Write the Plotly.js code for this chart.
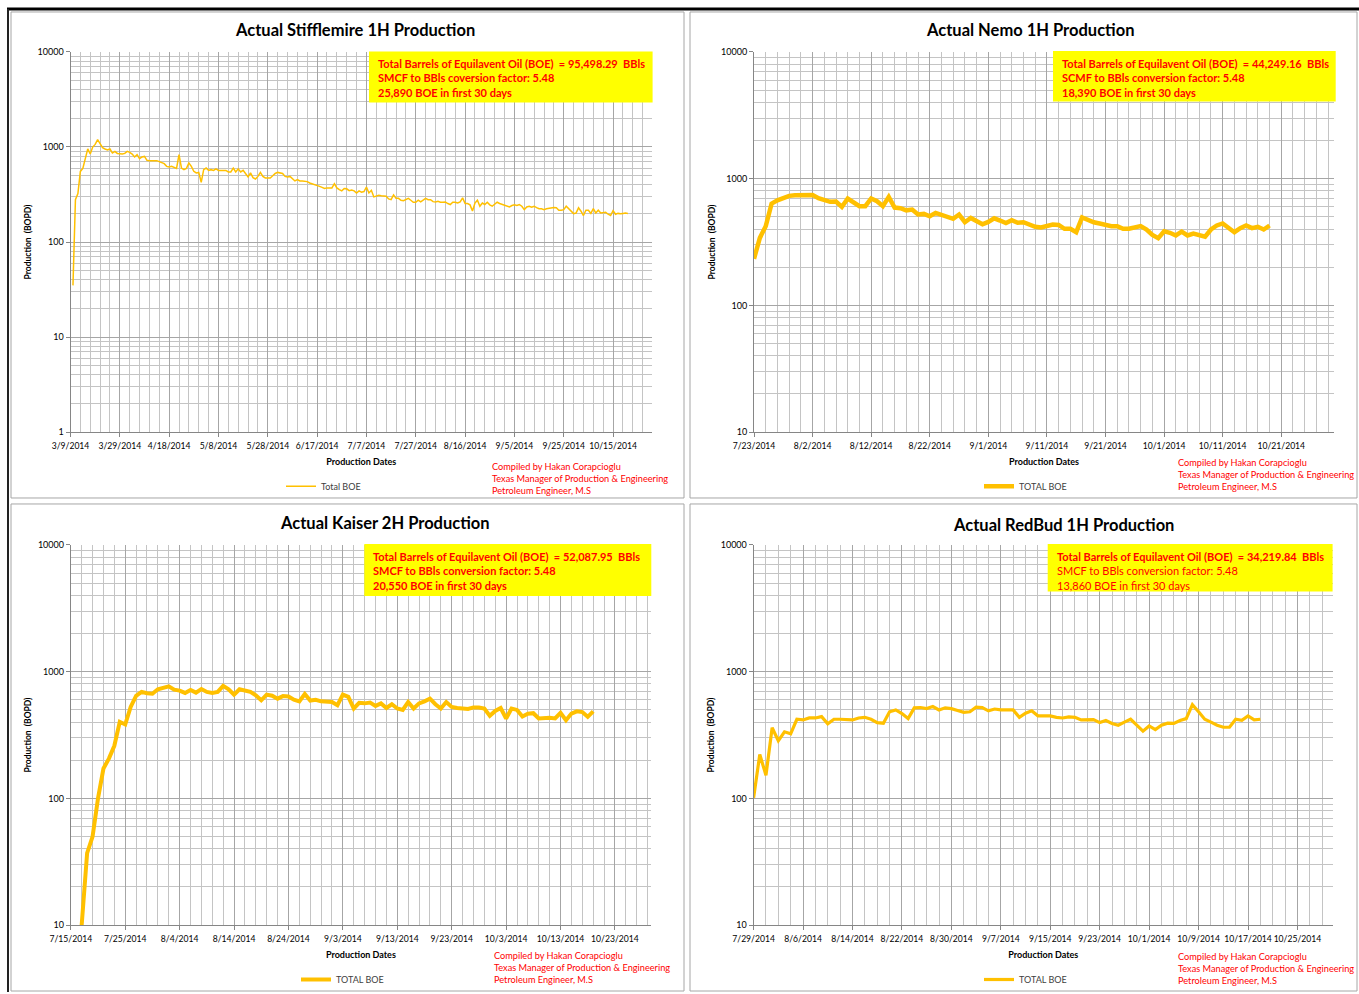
<!DOCTYPE html>
<html>
<head>
<meta charset="utf-8">
<script src="https://cdn.plot.ly/plotly-3.0.1.min.js"></script>
<style>
html,body{margin:0;padding:0;background:#fff;}
#chart{width:1359px;height:994px;}
</style>
</head>
<body>
<div id="chart"></div>
<script>
// ---------------- DATA ----------------
const wellTitles = ['Actual Stifflemire 1H Production', 'Actual Nemo 1H Production', 'Actual Kaiser 2H Production', 'Actual RedBud 1H Production'];
const legendNames = ['Total BOE', 'TOTAL BOE', 'TOTAL BOE', 'TOTAL BOE'];
const boeTotals = ['95,498.29', '44,249.16', '52,087.95', '34,219.84'];
const factorLines = ['SMCF to BBls coversion factor: 5.48', 'SCMF to BBls conversion factor: 5.48', 'SMCF to BBls conversion factor: 5.48', 'SMCF to BBls conversion factor: 5.48'];
const first30Days = ['25,890', '18,390', '20,550', '13,860'];
const creditLines = ['Compiled by Hakan Corapcioglu', 'Texas Manager of Production & Engineering', 'Petroleum Engineer, M.S'];
const yTickVals = [1, 10, 100, 1000, 10000];

// daily Total BOE (bbl/day), first value on the start date
const stifflemireStart = '2014-03-10';
const stifflemireBOE = [35, 279, 323, 553, 595, 766, 955, 843, 997, 1063,
  1192, 1082, 982, 951, 929, 951, 863, 898, 855, 849,
  843, 855, 898, 877, 843, 784, 829, 754, 784, 795,
  723, 718, 718, 718, 718, 700, 678, 667, 625, 615,
  625, 610, 595, 829, 600, 577, 595, 678, 625, 555,
  533, 540, 425, 577, 600, 567, 577, 567, 588, 567,
  567, 560, 567, 546, 546, 600, 546, 588, 546, 567,
  520, 483, 533, 476, 460, 490, 540, 490, 472, 472,
  472, 497, 526, 540, 533, 526, 490, 483, 490, 460,
  439, 453, 439, 439, 439, 432, 418, 411, 401, 391,
  385, 376, 366, 371, 373, 371, 411, 371, 356, 345,
  366, 363, 347, 352, 345,
  328, 345, 334, 340, 379, 328, 350, 298, 303, 310,
  307, 305, 303, 284, 279, 313, 288, 288, 275, 272,
  279, 288, 275, 262, 262, 275, 264, 279, 288, 279,
  279, 266, 264, 268, 262, 262, 264, 254, 248, 262,
  262, 257, 264, 291, 254, 254, 246, 212, 257, 275,
  238, 257, 248, 262, 246, 238, 248, 262, 254, 248,
  242, 238, 234, 242, 246, 242, 248, 238, 219, 234,
  238, 232, 238, 230, 224, 224, 219, 224, 227, 229,
  230, 229, 216, 216, 219, 238, 224, 211, 199, 202,
  229, 211, 190, 216, 216, 200, 224, 202, 216, 202,
  202, 205, 196, 190, 214, 196, 200, 198, 200, 202, 200];

const nemoStart = '2014-07-23';
const nemoBOE = [233, 341, 421, 635, 675, 700, 731, 739, 739, 752,
  744, 700, 684, 656, 660, 599, 697, 647, 606, 606,
  697, 664, 606, 718, 591, 585, 562, 570, 521, 527,
  505, 537, 521, 499, 482, 521, 453, 489, 459, 436,
  456, 486, 467, 446, 470, 449, 453, 436, 417, 412,
  422, 434, 431, 402, 402, 378, 495, 470, 453, 443,
  431, 422, 422, 402, 402, 412, 422, 397, 360, 339,
  384, 374, 356, 382, 356, 369, 360, 348, 397, 427,
  443, 409, 378, 407, 427, 407, 417, 397, 427];

const kaiserStart = '2014-07-17';
const kaiserBOE = [10, 37, 50, 100, 172, 206, 260, 402, 383, 527,
  644, 692, 675, 670, 726, 748, 766, 721, 708, 679,
  717, 683, 730, 692, 679, 692, 772, 726, 659, 726,
  705, 692, 650, 594, 659, 646, 612, 641, 637, 600,
  583, 666, 592, 600, 583, 576, 576, 543, 659, 633,
  512, 567, 562, 570, 537, 562, 517, 553, 512, 499,
  576, 512, 562, 583, 612, 553, 512, 576, 527, 517,
  512, 507, 522, 522, 512, 448, 490, 517, 427, 512,
  499, 443, 465, 470, 427, 432, 432, 427, 473, 414,
  467, 486, 480, 440, 486];

const redbudStart = '2014-07-29';
const redbudBOE = [101, 222, 152, 361, 285, 335, 323, 421, 416, 431,
  431, 442, 388, 421, 421, 416, 416, 431, 436, 421,
  396, 392, 482, 499, 467, 426, 518, 521, 511, 530,
  499, 518, 511, 494, 477, 482, 524, 521, 491, 507,
  499, 499, 499, 436, 470, 491, 448, 448, 448, 436,
  431, 439, 436, 416, 418, 418, 396, 411, 390, 378,
  400, 421, 378, 339, 373, 349, 378, 392, 390, 411,
  426, 549, 482, 421, 400, 378, 364, 364, 421, 413,
  448, 416, 421];

const seriesStarts = [stifflemireStart, nemoStart, kaiserStart, redbudStart];
const seriesValues = [stifflemireBOE, nemoBOE, kaiserBOE, redbudBOE];

// ---------------- LAYOUT (pixel positions / styles) ----------------
const W = 1359, H = 994, DAY = 86400000;
const fx = p => p / W;
const fy = p => 1 - p / H;
const FONT = 'Lato, "Open Sans", sans-serif';
const ORANGE = '#FFC000';

function dailyDates(start, n) {
  const d0 = Date.parse(start + 'T00:00:00Z');
  const out = [];
  for (let i = 0; i < n; i++) out.push(new Date(d0 + i * DAY).toISOString().slice(0, 10));
  return out;
}

const panels = [
  {plot: [70.5, 652, 52, 433], xr: ['2014-03-09', '2014-10-30 19:00'], tick0: '2014-03-09', major: 20, minor: 4, ymin: 0, lw: 1.5,
   title: [355, 30], box: [369, 652.6, 51.7, 102.7], text: [375.5, 55.5], credit: [490, 460], legend: [281, 487.3], boldAll: true},
  {plot: [754, 1334, 52, 433], xr: ['2014-07-23', '2014-10-30 00:00'], tick0: '2014-07-23', major: 10, minor: 2, ymin: 1, lw: 4.5,
   title: [1030.4, 30], box: [1053, 1335.7, 51, 101.7], text: [1059.8, 55], credit: [1175.5, 456], legend: [979, 487.3], boldAll: true},
  {plot: [70.8, 651, 546, 927], xr: ['2014-07-15', '2014-10-29 15:00'], tick0: '2014-07-15', major: 10, minor: 2, ymin: 1, lw: 4,
   title: [385, 524], box: [364.3, 651.3, 545, 597.3], text: [371, 549], credit: [491.6, 950], legend: [296, 981.7], boldAll: true},
  {plot: [753.6, 1333, 546, 927], xr: ['2014-07-29', '2014-10-30 18:00'], tick0: '2014-07-29', major: 8, minor: 2, ymin: 1, lw: 3.2,
   title: [1063.8, 526], box: [1047.7, 1332.6, 545, 592.7], text: [1054.5, 549], credit: [1175.5, 951], legend: [979, 981.7], boldAll: false}
];

const data = [];
const layout = {
  width: W, height: H,
  margin: {l: 0, r: 0, t: 0, b: 0},
  paper_bgcolor: '#ffffff', plot_bgcolor: '#ffffff',
  font: {family: FONT, color: '#000'},
  showlegend: true,
  annotations: [], shapes: []
};

panels.forEach((p, i) => {
  const k = i + 1;
  const xa = 'xaxis' + (k === 1 ? '' : k), ya = 'yaxis' + (k === 1 ? '' : k);
  const xr = 'x' + (k === 1 ? '' : k), yr = 'y' + (k === 1 ? '' : k);
  const lg = 'legend' + (k === 1 ? '' : k);

  data.push({
    type: 'scatter', mode: 'lines',
    x: dailyDates(seriesStarts[i], seriesValues[i].length),
    y: seriesValues[i],
    name: legendNames[i],
    xaxis: xr, yaxis: yr, legend: lg,
    line: {color: ORANGE, width: p.lw},
    hoverinfo: 'x+y'
  });

  const minorVals = [];
  for (let e = p.ymin; e < 4; e++) for (let m = 2; m <= 9; m++) minorVals.push(m * Math.pow(10, e));

  layout[xa] = {
    type: 'date', anchor: yr,
    domain: [fx(p.plot[0]), fx(p.plot[1])],
    range: p.xr,
    tickmode: 'linear', tick0: p.tick0, dtick: p.major * DAY,
    tickformat: '%-m/%-d/%Y', tickangle: 0,
    tickfont: {family: FONT, size: 8.6, color: '#000'},
    ticks: 'outside', ticklen: 4, tickcolor: '#868686', ticklabelstandoff: 2,
    showline: true, linecolor: '#868686', linewidth: 1,
    showgrid: true, gridcolor: '#A6A6A6', gridwidth: 1,
    minor: {tick0: p.tick0, dtick: p.minor * DAY, showgrid: true, gridcolor: '#C4C4C4', gridwidth: 1, ticks: ''},
    zeroline: false,
    title: {text: 'Production Dates', font: {family: FONT, size: 9, color: '#000', weight: 'bold'}, standoff: 8}
  };
  layout[ya] = {
    type: 'log', anchor: xr,
    domain: [fy(p.plot[3]), fy(p.plot[2])],
    range: [p.ymin, 4],
    tickmode: 'array', tickvals: yTickVals, ticktext: yTickVals.map(String),
    tickfont: {family: FONT, size: 9, color: '#000'},
    ticks: 'outside', ticklen: 4, tickcolor: '#868686',
    showline: true, linecolor: '#868686', linewidth: 1,
    showgrid: true, gridcolor: '#A6A6A6', gridwidth: 1,
    minor: {tickmode: 'array', tickvals: minorVals, showgrid: true, gridcolor: '#C4C4C4', gridwidth: 1, ticks: ''},
    zeroline: false,
    title: {text: 'Production  (BOPD)', font: {family: FONT, size: 8.5, color: '#000', weight: 'bold'}, standoff: 4}
  };

  layout[lg] = {
    x: fx(p.legend[0]), y: fy(p.legend[1]), xanchor: 'left', yanchor: 'middle',
    bgcolor: 'rgba(0,0,0,0)', borderwidth: 0,
    font: {family: FONT, size: 9, color: '#404040'},
    orientation: 'h'
  };

  // chart title
  layout.annotations.push({
    xref: 'paper', yref: 'paper', x: fx(p.title[0]), y: fy(p.title[1]),
    xanchor: 'center', yanchor: 'middle', showarrow: false,
    text: '<b>' + wellTitles[i] + '</b>',
    font: {family: FONT, size: 16.5, color: '#000'}
  });

  // yellow info box
  layout.shapes.push({
    type: 'rect', xref: 'paper', yref: 'paper', layer: 'above',
    x0: fx(p.box[0]), x1: fx(p.box[1]), y0: fy(p.box[3]), y1: fy(p.box[2]),
    fillcolor: '#FFFF00', line: {width: 0}
  });
  const l1 = '<b>Total Barrels of Equilavent Oil (BOE)  = ' + boeTotals[i] + '  BBls</b>';
  const l2 = p.boldAll ? '<b>' + factorLines[i] + '</b>' : factorLines[i];
  const l3 = p.boldAll ? '<b>' + first30Days[i] + ' BOE in first 30 days</b>' : first30Days[i] + ' BOE in first 30 days';
  layout.annotations.push({
    xref: 'paper', yref: 'paper', x: fx(p.text[0]), y: fy(p.text[1]),
    xanchor: 'left', yanchor: 'top', align: 'left', showarrow: false,
    text: l1 + '<br>' + l2 + '<br>' + l3,
    font: {family: FONT, size: 11, color: '#FF0000'}
  });

  // credits
  layout.annotations.push({
    xref: 'paper', yref: 'paper', x: fx(p.credit[0]), y: fy(p.credit[1]),
    xanchor: 'left', yanchor: 'top', align: 'left', showarrow: false,
    text: creditLines.join('<br>'),
    font: {family: FONT, size: 9.2, color: '#FF0000'}
  });
});

// panel frames
const frames = [[11, 684, 12, 499], [690, 1357, 12, 499], [11, 684, 505, 993], [690, 1357, 505, 993]];
frames.forEach(f => layout.shapes.push({
  type: 'rect', xref: 'paper', yref: 'paper', layer: 'below',
  x0: fx(f[0]), x1: fx(f[1]), y0: fy(f[3]), y1: fy(f[2]),
  line: {color: '#A6A6A6', width: 1}, fillcolor: 'rgba(0,0,0,0)'
}));
layout.shapes.push({type: 'line', xref: 'paper', yref: 'paper', x0: fx(7), x1: 1, y0: fy(9), y1: fy(9), line: {color: '#000', width: 3}});
layout.shapes.push({type: 'line', xref: 'paper', yref: 'paper', x0: fx(8), x1: fx(8), y0: fy(9), y1: 0, line: {color: '#222', width: 2}});

Plotly.newPlot('chart', data, layout, {displayModeBar: false, staticPlot: true});
</script>
</body>
</html>
